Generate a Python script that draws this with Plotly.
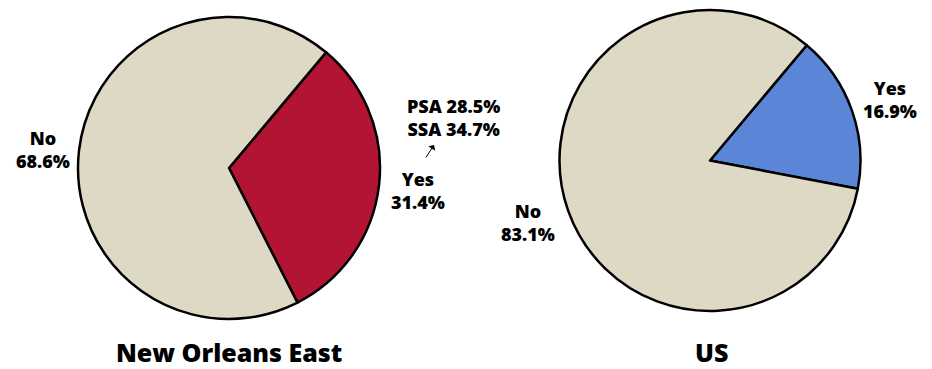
import plotly.graph_objects as go

W, H = 932, 369

categories = ["Yes", "No"]
noe_values = [31.4, 68.6]
us_values = [16.9, 83.1]
group_titles = ["New Orleans East", "US"]
sub_labels = ["PSA", "SSA"]
sub_values = [28.5, 34.7]

beige = "#DDD9C4"
red = "#B41434"
blue = "#5B85D6"
font_family = "Open Sans, DejaVu Sans, sans-serif"

def px_x(x):
    return x / W

def px_y(y):
    return 1 - y / H

fig = go.Figure()

fig.add_trace(go.Pie(
    labels=categories, values=noe_values, sort=False, direction="clockwise",
    rotation=40, textinfo="none", hoverinfo="label+percent",
    marker=dict(colors=[red, beige], line=dict(color="black", width=2.5)),
    domain=dict(x=[px_x(78), px_x(380)], y=[px_y(319), px_y(17)]),
    showlegend=False,
))
fig.add_trace(go.Pie(
    labels=categories, values=us_values, sort=False, direction="clockwise",
    rotation=40, textinfo="none", hoverinfo="label+percent",
    marker=dict(colors=[blue, beige], line=dict(color="black", width=2.5)),
    domain=dict(x=[px_x(559), px_x(861)], y=[px_y(311), px_y(10)]),
    showlegend=False,
))

annotations = []

def add_label(text, x, y, size=18, yanchor="middle"):
    annotations.append(dict(
        text=text, x=px_x(x), y=px_y(y), xref="paper", yref="paper",
        showarrow=False, xanchor="center", yanchor=yanchor, borderpad=0,
        font=dict(family=font_family, size=size, color="black", weight=800),
    ))

def slice_text(name, v):
    return f"{name}<br>{v}%"

add_label(slice_text(categories[1], noe_values[1]), 43, 149)
add_label(slice_text(categories[0], noe_values[0]), 418, 190)
add_label(slice_text(categories[1], us_values[1]), 528, 223)
add_label(slice_text(categories[0], us_values[0]), 890, 99)

sub_text = "<br>".join(f"{n} {v}%" for n, v in zip(sub_labels, sub_values))
add_label(sub_text, 453, 117)

add_label(group_titles[0], 229, 352, size=25)
add_label(group_titles[1], 711, 352, size=25)

annotations.append(dict(
    x=px_x(434), y=px_y(145), xref="paper", yref="paper",
    ax=-9, ay=14, showarrow=True, arrowhead=1, arrowsize=1.4,
    arrowwidth=1, arrowcolor="black", text="",
))

fig.update_layout(
    width=W, height=H, margin=dict(l=0, r=0, t=0, b=0),
    paper_bgcolor="white", plot_bgcolor="white",
    annotations=annotations,
)

fig.write_html("out.html")
